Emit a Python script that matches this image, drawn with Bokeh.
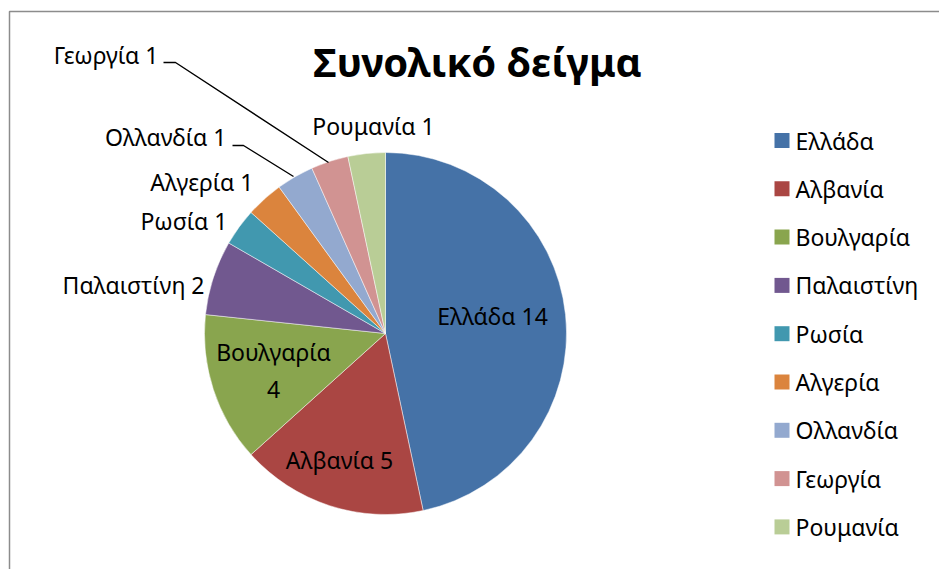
import numpy as np
from bokeh.plotting import figure
from bokeh.models import Range1d, ColumnDataSource
from bokeh.core.properties import value
from bokeh.embed import file_html
from bokeh.resources import INLINE

# ---- data ----
countries = ["Ελλάδα", "Αλβανία", "Βουλγαρία", "Παλαιστίνη", "Ρωσία",
             "Αλγερία", "Ολλανδία", "Γεωργία", "Ρουμανία"]
counts = [14, 5, 4, 2, 1, 1, 1, 1, 1]
colors = ["#4572A7", "#AA4643", "#89A54E", "#71588F", "#4198AF",
          "#DB843D", "#93A9CF", "#D19392", "#B9CD96"]
title_text = "Συνολικό δείγμα"

# ---- layout (pixel space, y measured downward from top) ----
W, H = 939, 569
FONT = "Noto Sans"
cx, cy, R = 385, 333, 181

def Y(py):
    return H - py

p = figure(width=W, height=H, output_backend="svg", toolbar_location=None,
           x_range=Range1d(0, W), y_range=Range1d(0, H), min_border=0)
p.axis.visible = False
p.grid.visible = False
p.outline_line_color = None
p.background_fill_color = "white"

# chart frame
p.line([9, 9, W + 20], [Y(H + 20), Y(11), Y(11)], line_color="#8c8c8c", line_width=1.5)

# pie wedges, clockwise from 12 o'clock
total = sum(counts)
frac = np.array(counts) / total
ends = np.cumsum(frac)
starts = ends - frac
start_ang = np.pi / 2 - 2 * np.pi * starts
end_ang = np.pi / 2 - 2 * np.pi * ends
src = ColumnDataSource(dict(start=start_ang, end=end_ang, color=colors))
p.wedge(x=cx, y=Y(cy), radius=R, start_angle="start", end_angle="end",
        direction="clock", fill_color="color", line_color="white",
        line_width=0.6, line_alpha=0.8, source=src)

# data labels
labels = [f"{c} {v}" for c, v in zip(countries, counts)]
labels[2] = f"{countries[2]}\n{counts[2]}"
# (x, y, align) label anchor positions
lab_pos = [(492, 315, "center"), (339, 459, "center"), (273, 370, "center"),
           (204, 284, "right"), (227, 220, "right"), (253, 181, "right"),
           (226, 136, "right"), (158, 54, "right"), (373, 125, "center")]
for t, (lx, ly, al) in zip(labels, lab_pos):
    p.text(x=[lx], y=[Y(ly)], text=[t], text_font=value(FONT), text_font_size="23px",
           text_align=al, text_baseline="middle", text_color="black",
           text_line_height=1.15)

# leader lines
p.line([163, 175, 328], [Y(62), Y(62), Y(162)], line_color="black", line_width=1.4)
p.line([232, 243, 293], [Y(145), Y(145), Y(176)], line_color="black", line_width=1.4)

# title
p.text(x=[477], y=[Y(61)], text=[title_text], text_font=value(FONT),
       text_font_size="40px", text_font_style="bold", text_align="center",
       text_baseline="middle", text_color="black")

# legend
ly0, dly = 140, 48.3
leg_y = [Y(ly0 + i * dly) for i in range(len(countries))]
p.rect(x=[781.5] * len(countries), y=leg_y, width=15, height=15,
       fill_color=colors, line_color=None)
p.text(x=[795] * len(countries), y=leg_y, text=countries, text_font=value(FONT),
       text_font_size="23px", text_align="left", text_baseline="middle",
       text_color="black")

open("out.html", "w").write(file_html(p, INLINE))
